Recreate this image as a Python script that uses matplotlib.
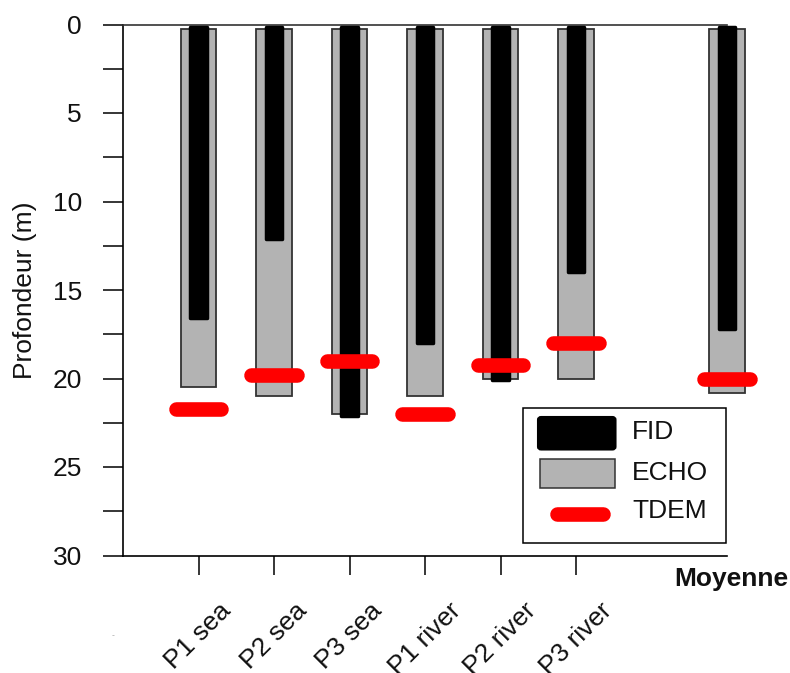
import matplotlib
matplotlib.use("Agg")
import matplotlib.pyplot as plt
from matplotlib.patches import Rectangle, FancyBboxPatch
from matplotlib.lines import Line2D
from matplotlib.ticker import MultipleLocator

plt.rcParams['font.family'] = ['Liberation Sans', 'DejaVu Sans']

# ---- data ----
categories = ["P1 sea", "P2 sea", "P3 sea", "P1 river", "P2 river", "P3 river"]
mean_label = "Moyenne"
positions = [1, 2, 3, 4, 5, 6]
mean_position = 8
echo_depth = [20.5, 21.0, 22.0, 21.0, 20.0, 20.0]
fid_depth = [16.6, 12.1, 22.1, 18.0, 20.1, 14.0]
tdem_depth = [21.7, 19.8, 19.0, 22.0, 19.25, 18.0]
echo_mean = 20.8
fid_mean = 17.2
tdem_mean = 20.0

# ---- figure ----
W, H = 790, 673
fig = plt.figure(figsize=(W / 100, H / 100), dpi=100)
ax_l, ax_r, ax_t, ax_b = 123, 727, 24.5, 555.5
ax = fig.add_axes([ax_l / W, 1 - ax_b / H, (ax_r - ax_l) / W, (ax_b - ax_t) / H])

FS = 19
GRAY = "#b3b3b3"
EDGE = "#333333"
ECHO_TOP = 0.28
FID_TOP = 0.15
ECHO_W = 0.47
FID_W = 0.22
TDEM_HALF = 0.30

all_pos = positions + [mean_position]
all_echo = echo_depth + [echo_mean]
all_fid = fid_depth + [fid_mean]
all_tdem = tdem_depth + [tdem_mean]

ax.bar(all_pos, [e - ECHO_TOP for e in all_echo], bottom=ECHO_TOP, width=ECHO_W,
       color=GRAY, edgecolor=EDGE, linewidth=1.3, clip_on=False, zorder=2)
bars = ax.bar(all_pos, [f - FID_TOP for f in all_fid], bottom=FID_TOP, width=FID_W,
              color="black", edgecolor="black", linewidth=2.5, clip_on=False, zorder=3)
for b in bars:
    b.set_joinstyle('round')
for p, t in zip(all_pos, all_tdem):
    ax.plot([p - TDEM_HALF, p + TDEM_HALF], [t, t], color="#ff0000", lw=10.5,
            solid_capstyle='round', clip_on=False, zorder=4)

ax.set_xlim(0, 8)
ax.set_ylim(30, 0)
ax.yaxis.set_major_locator(MultipleLocator(5))
ax.yaxis.set_minor_locator(MultipleLocator(2.5))
ax.set_xticks(positions)
ax.set_xticklabels(categories, rotation=45, ha='center', va='top')
ax.tick_params(axis='x', direction='out', length=14, width=1.1, pad=17, labelsize=FS,
               labelcolor='#111111')
ax.tick_params(axis='y', which='both', direction='out', length=14.5, width=1.1, pad=15,
               labelsize=FS, labelcolor='#111111')
ax.tick_params(axis='y', which='minor', labelleft=False)
for s in ['left', 'bottom', 'top']:
    ax.spines[s].set_linewidth(1.2)
ax.spines['top'].set_color('#333333')
ax.spines['right'].set_visible(False)
ax.set_ylabel("Profondeur (m)", fontsize=FS, labelpad=11, color="#111111")


def fx(x):
    return x / W


def fy(y):
    return 1 - y / H


fig.text(fx(731), fy(579), mean_label, fontsize=FS, fontweight='bold', ha='center', va='center',
         color='#111111')
fig.text(fx(113), fy(634), "..", fontsize=5, color="#888888", ha='center', va='center')

# ---- legend (drawn in pixel layout) ----
fig.patches.append(Rectangle((fx(523.3), fy(543.3)), fx(725.7) - fx(523.3), fy(408.3) - fy(543.3),
                             transform=fig.transFigure, facecolor='white', edgecolor='black',
                             linewidth=1.1, zorder=5))
fig.patches.append(FancyBboxPatch((fx(538), fy(449.5)), fx(615.5) - fx(538), fy(417) - fy(449.5),
                                  boxstyle="round,pad=0,rounding_size=0.004",
                                  transform=fig.transFigure, facecolor='black', edgecolor='black',
                                  linewidth=1.5, zorder=6))
fig.patches.append(Rectangle((fx(539.5), fy(487.5)), fx(614.5) - fx(539.5), fy(458.5) - fy(487.5),
                             transform=fig.transFigure, facecolor=GRAY, edgecolor=EDGE,
                             linewidth=1.1, zorder=6))
fig.lines.append(Line2D([fx(557), fx(603)], [fy(514.3), fy(514.3)], transform=fig.transFigure,
                        color='#ff0000', lw=10.5, solid_capstyle='round', zorder=6))
for label, yc in [("FID", 432), ("ECHO", 472.5), ("TDEM", 510.7)]:
    fig.text(fx(632), fy(yc), label, fontsize=FS, ha='left', va='center', zorder=7,
             color='#111111')

fig.savefig("out.png", dpi=100)
